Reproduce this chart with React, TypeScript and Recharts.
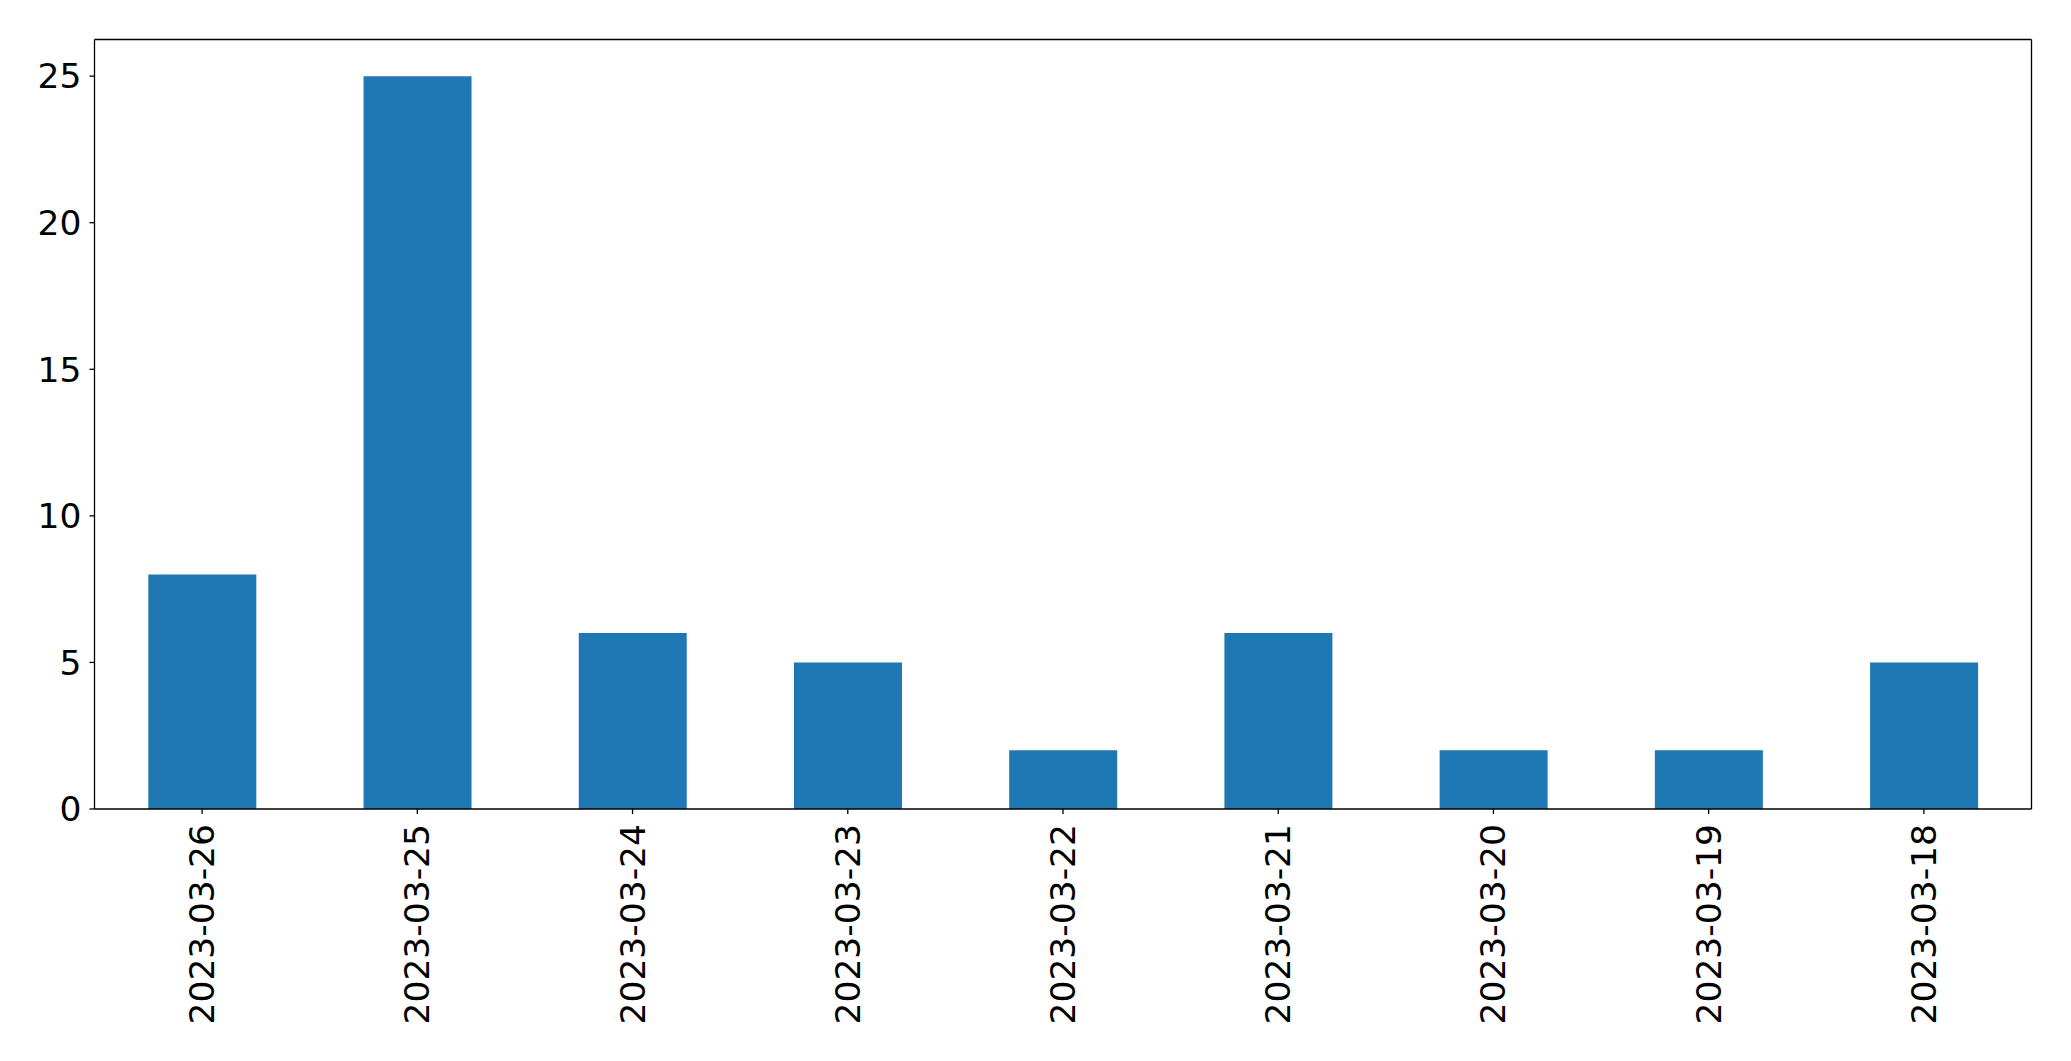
import { Bar, BarChart, XAxis, YAxis } from "recharts";

const dates = [
  "2023-03-26",
  "2023-03-25",
  "2023-03-24",
  "2023-03-23",
  "2023-03-22",
  "2023-03-21",
  "2023-03-20",
  "2023-03-19",
  "2023-03-18",
];
const counts = [8, 25, 6, 5, 2, 6, 2, 2, 5];
const yTicks = [0, 5, 10, 15, 20, 25];

const data = dates.map((d, i) => ({ date: d, count: counts[i] }));

const FONT = "'DejaVu Sans', sans-serif";
const FS = 34.5;
const LINE = { stroke: "#000", strokeWidth: 1.3 };

function DateTick(props: any) {
  const { x, y, payload } = props;
  return (
    <g transform={`translate(${x},${y})`}>
      <text
        transform="rotate(-90)"
        textAnchor="end"
        dominantBaseline="central"
        fontFamily={FONT}
        fontSize={FS}
        fill="#000"
      >
        {payload.value}
      </text>
    </g>
  );
}

export default function App() {
  return (
    <div style={{ position: "absolute", left: 0, top: 0, background: "#fff" }}>
      <BarChart
        width={2071}
        height={1061}
        data={data}
        margin={{ top: 38.5, right: 38.5, left: 0, bottom: 0 }}
        barCategoryGap="25%"
      >
        <XAxis
          dataKey="date"
          height={252}
          interval={0}
          tick={<DateTick />}
          tickSize={5}
          tickMargin={10}
          axisLine={LINE}
          tickLine={LINE}
        />
        <XAxis
          xAxisId="top"
          dataKey="date"
          orientation="top"
          height={1}
          tick={false}
          tickLine={false}
          axisLine={LINE}
        />
        <YAxis
          width={94.5}
          domain={[0, 26.25]}
          ticks={yTicks}
          tickSize={5}
          tickMargin={8}
          axisLine={LINE}
          tickLine={LINE}
          tick={{ fill: "#000", fontSize: FS, fontFamily: FONT }}
        />
        <YAxis
          yAxisId="right"
          orientation="right"
          width={1}
          tick={false}
          tickLine={false}
          axisLine={LINE}
        />
        <Bar dataKey="count" fill="#1f77b4" isAnimationActive={false} />
      </BarChart>
    </div>
  );
}
